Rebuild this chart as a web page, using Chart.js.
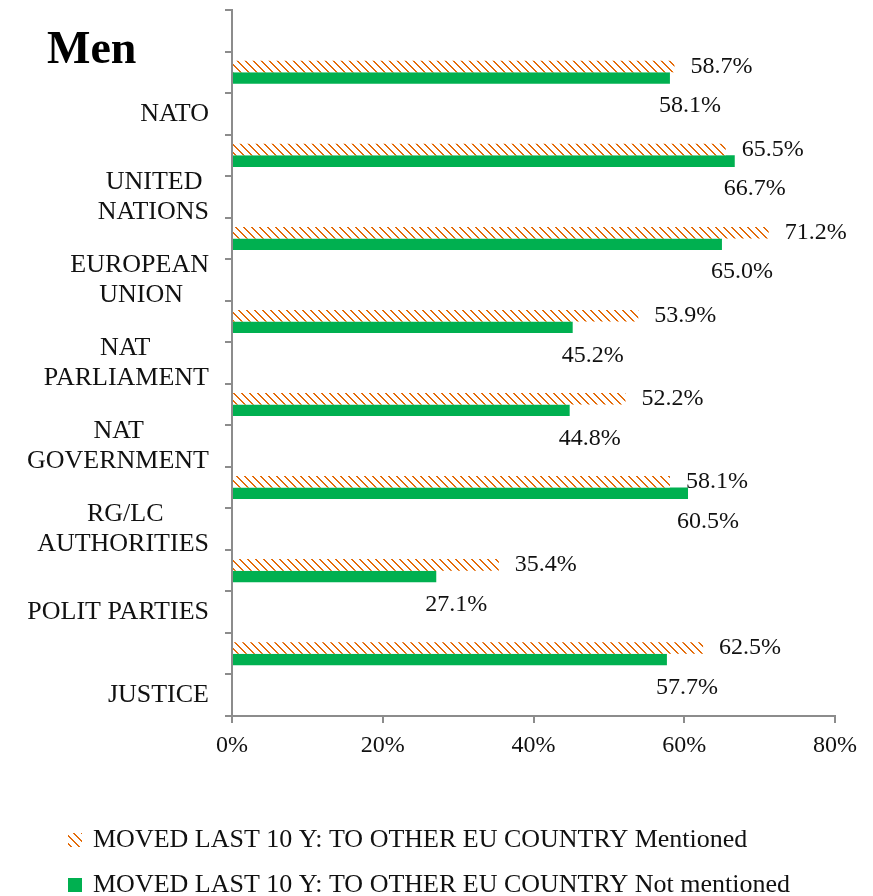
<!DOCTYPE html>
<html>
<head>
<meta charset="utf-8">
<script src="https://cdn.jsdelivr.net/npm/chart.js@4.4.1/dist/chart.umd.min.js"></script>
<style>
html,body{margin:0;padding:0;background:#fff;overflow:hidden}
#wrap{width:873px;height:896px;position:relative}
</style>
</head>
<body>
<div id="wrap"><canvas id="c" width="873" height="896"></canvas></div>
<script>
// ---- data ----
const chartTitle = 'Men';
const categories = [
  ['NATO'],
  ['UNITED', 'NATIONS'],
  ['EUROPEAN', 'UNION'],
  ['NAT', 'PARLIAMENT'],
  ['NAT', 'GOVERNMENT'],
  ['RG/LC', 'AUTHORITIES'],
  ['POLIT PARTIES'],
  ['JUSTICE']
];
const seriesNames = [
  'MOVED LAST 10 Y: TO OTHER EU COUNTRY Mentioned',
  'MOVED LAST 10 Y: TO OTHER EU COUNTRY Not mentioned'
];
const mentioned    = [58.7, 65.5, 71.2, 53.9, 52.2, 58.1, 35.4, 62.5];
const notMentioned = [58.1, 66.7, 65.0, 45.2, 44.8, 60.5, 27.1, 57.7];
const xTickValues  = [0, 20, 40, 60, 80];

// ---- styling ----
const FONT = '"Liberation Serif", "Times New Roman", serif';
const ORANGE = '#E46C0A';
const GREEN = '#00B050';
const AXIS = '#8c8c8c';

function makeHatch(color) {
  const c = document.createElement('canvas');
  c.width = 8; c.height = 8;
  const g = c.getContext('2d');
  g.fillStyle = '#ffffff';
  g.fillRect(0, 0, 8, 8);
  g.fillStyle = color;
  for (let i = 0; i < 8; i++) {
    g.fillRect(i, i, 1, 1);
    g.fillRect((i + 1) % 8, i, 1, 1);
  }
  return g.createPattern(c, 'repeat');
}

// centre the lines of multi-line labels within their block (block stays right-aligned)
const measureCtx = document.createElement('canvas').getContext('2d');
measureCtx.font = '26px ' + FONT;
function centerLines(lines) {
  if (lines.length === 1) return lines[0];
  const widths = lines.map(l => measureCtx.measureText(l).width);
  const maxW = Math.max(...widths);
  const sp = measureCtx.measureText(' ').width;
  return lines.map((l, i) => l + ' '.repeat(Math.round((maxW - widths[i]) / 2 / sp)));
}

// slots: one empty slot on top, then for each category a bar row followed by its label row
const slotLabels = [''];
const slotMentioned = [null];
const slotNotMentioned = [null];
categories.forEach((cat, i) => {
  slotLabels.push('', centerLines(cat));
  slotMentioned.push(mentioned[i], null);
  slotNotMentioned.push(notMentioned[i], null);
});

const hatch = makeHatch(ORANGE);

const extrasPlugin = {
  id: 'extras',
  afterDatasetsDraw(chart) {
    const ctx = chart.ctx;
    ctx.save();
    ctx.font = '24px ' + FONT;
    ctx.fillStyle = '#111';
    ctx.textBaseline = 'middle';
    chart.data.datasets.forEach((ds, di) => {
      const meta = chart.getDatasetMeta(di);
      meta.data.forEach((el, idx) => {
        const v = ds.data[idx];
        if (v === null || v === undefined) return;
        const txt = v.toFixed(1) + '%';
        if (di === 0) {
          ctx.textAlign = 'left';
          ctx.fillText(txt, el.x + 16, el.y);
        } else {
          ctx.textAlign = 'center';
          ctx.fillText(txt, el.x + 20, el.y + 28);
        }
      });
    });
    ctx.restore();
  },
  afterDraw(chart) {
    const ctx = chart.ctx;
    ctx.save();
    // title
    ctx.font = 'bold 46px ' + FONT;
    ctx.fillStyle = '#000';
    ctx.textAlign = 'left';
    ctx.textBaseline = 'alphabetic';
    ctx.fillText(chartTitle, 47, 63);
    // legend
    ctx.font = '26px ' + FONT;
    ctx.textBaseline = 'middle';
    chart.data.datasets.forEach((ds, i) => {
      const cy = 840 + i * 45;
      ctx.fillStyle = ds.backgroundColor;
      ctx.fillRect(68, cy - 7, 14, 14);
      ctx.fillStyle = '#111';
      ctx.fillText(ds.label, 93, cy);
    });
    ctx.restore();
  }
};

new Chart(document.getElementById('c'), {
  type: 'bar',
  data: {
    labels: slotLabels,
    datasets: [
      { label: seriesNames[0], data: slotMentioned, backgroundColor: hatch,
        categoryPercentage: 0.555, barPercentage: 1, borderWidth: 0 },
      { label: seriesNames[1], data: slotNotMentioned, backgroundColor: GREEN,
        categoryPercentage: 0.555, barPercentage: 1, borderWidth: 0 }
    ]
  },
  options: {
    indexAxis: 'y',
    responsive: false,
    animation: false,
    devicePixelRatio: 1,
    layout: { padding: { top: 10, right: 38, bottom: 136, left: 0 } },
    plugins: { legend: { display: false }, tooltip: { enabled: false } },
    scales: {
      x: {
        type: 'linear',
        min: xTickValues[0],
        max: xTickValues[xTickValues.length - 1],
        afterBuildTicks: s => { s.ticks = xTickValues.map(v => ({ value: v })); },
        ticks: {
          callback: v => v + '%',
          font: { family: FONT, size: 24 },
          color: '#111',
          padding: 8,
          maxRotation: 0
        },
        grid: { drawOnChartArea: false, drawTicks: true, tickLength: 7, color: AXIS, lineWidth: 2 },
        border: { display: true, color: AXIS, width: 2 },
        afterFit: s => { s.height = 44; }
      },
      y: {
        type: 'category',
        offset: true,
        ticks: {
          autoSkip: false,
          font: { family: FONT, size: 26, lineHeight: 1.154 },
          color: '#111',
          padding: 16
        },
        grid: { offset: true, drawOnChartArea: false, drawTicks: true, tickLength: 7, color: AXIS, lineWidth: 2 },
        border: { display: true, color: AXIS, width: 2 },
        afterFit: s => { s.width = 232; s.paddingTop = 0; s.paddingBottom = 0; }
      }
    }
  },
  plugins: [extrasPlugin]
});
</script>
</body>
</html>
